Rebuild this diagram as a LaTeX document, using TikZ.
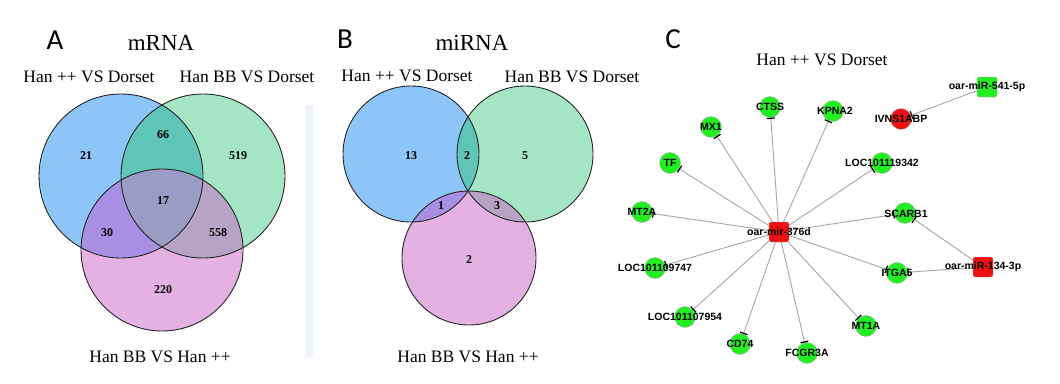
\documentclass[tikz,border=0pt]{standalone}
\usepackage{fontspec}
\setmainfont{Liberation Serif}
\newfontfamily\panelfont{Carlito}
\newfontfamily\netfont{Liberation Sans}
\usetikzlibrary{arrows.meta}
\definecolor{vblue}{HTML}{8DC5F9}
\definecolor{vgreen}{HTML}{A4E6C3}
\definecolor{vpink}{HTML}{E5B1E3}
\definecolor{vbg}{HTML}{5EC5B8}
\definecolor{vbp}{HTML}{A78FE3}
\definecolor{vgp}{HTML}{B7A3C6}
\definecolor{vall}{HTML}{9A9CC5}
\definecolor{vbar}{HTML}{EEF2FB}
\definecolor{ngreen}{HTML}{22EE22}
\definecolor{nred}{HTML}{EE1111}
\begin{document}
\begin{tikzpicture}[x=1pt,y=-1pt,
  title/.style={font=\fontsize{17.5}{20}\selectfont,inner sep=0pt},
  bigtitle/.style={font=\fontsize{23}{26}\selectfont,inner sep=0pt},
  panel/.style={font=\panelfont\fontsize{29}{32}\selectfont,inner sep=0pt},
  num/.style={font=\bfseries\fontsize{12}{14}\selectfont,inner sep=0pt},
  ring/.style={draw=black!85,line width=0.9pt},
  gene/.style={circle,draw=gray!60,fill=ngreen,minimum size=21pt,inner sep=0pt},
  redgene/.style={gene,fill=nred},
  mirbox/.style={rectangle,rounded corners=2pt,draw=gray!60,fill=nred,minimum size=20pt,inner sep=0pt},
  greenbox/.style={mirbox,fill=ngreen},
  lbl/.style={font=\netfont\bfseries\fontsize{10.5}{12}\selectfont,inner sep=0pt},
  edge/.style={draw=gray!70,line width=0.9pt,-{Bar[width=8pt,line width=1.2pt,color=black]}}
]
\useasboundingbox[fill=white] (0,0) rectangle (1060,383);

% ---------------- Panel A ----------------
\coordinate (a1) at (121,176);
\coordinate (a2) at (203,176);
\coordinate (a3) at (162,250);
\fill[vbar] (306,105) rectangle (313,357);
\fill[vblue] (a1) circle (82);
\fill[vgreen] (a2) circle (82);
\fill[vpink] (a3) circle (81);
\begin{scope}
  \clip (a1) circle (82);
  \fill[vbg] (a2) circle (82);
  \fill[vbp] (a3) circle (81);
  \clip (a2) circle (82);
  \fill[vall] (a3) circle (81);
\end{scope}
\begin{scope}
  \clip (a2) circle (82);
  \clip (a3) circle (81);
  \fill[vgp] (a3) circle (81);
  \clip (a1) circle (82);
  \fill[vall] (a3) circle (81);
\end{scope}
\draw[ring] (a1) circle (82);
\draw[ring] (a2) circle (82);
\draw[ring] (a3) circle (81);
\node[panel] (pA) at (55,40) {A};
\node[bigtitle] (tA) at (161,43) {mRNA};
\node[title] (tA1) at (89,77) {Han ++ VS Dorset};
\node[title] (tA2) at (247,77) {Han BB VS Dorset};
\node[title] (tA3) at (160,357) {Han BB VS Han ++};
\node[num] (nA1) at (86,156) {21};
\node[num] (nA2) at (163,135) {66};
\node[num] (nA3) at (238,156) {519};
\node[num] (nA4) at (163,201) {17};
\node[num] (nA5) at (107,233) {30};
\node[num] (nA6) at (218,233) {558};
\node[num] (nA7) at (163,290) {220};

% ---------------- Panel B ----------------
\coordinate (b1) at (411,154);
\coordinate (b2) at (525,154);
\coordinate (b3) at (469,258);
\fill[vblue] (b1) circle (68);
\fill[vgreen] (b2) circle (68);
\fill[vpink] (b3) circle (67);
\begin{scope}
  \clip (b1) circle (68);
  \fill[vbg] (b2) circle (68);
  \fill[vbp] (b3) circle (67);
\end{scope}
\begin{scope}
  \clip (b2) circle (68);
  \fill[vgp] (b3) circle (67);
\end{scope}
\draw[ring] (b1) circle (68);
\draw[ring] (b2) circle (68);
\draw[ring] (b3) circle (67);
\node[panel] (pB) at (345,39) {B};
\node[bigtitle] (tB) at (472,43) {miRNA};
\node[title] (tB1) at (407,76) {Han ++ VS Dorset};
\node[title] (tB2) at (572,77) {Han BB VS Dorset};
\node[title] (tB3) at (468,357) {Han BB VS Han ++};
\node[num] (nB1) at (411,156) {13};
\node[num] (nB2) at (467,156) {2};
\node[num] (nB3) at (525,156) {5};
\node[num] (nB4) at (441,206) {1};
\node[num] (nB5) at (497,206) {3};
\node[num] (nB6) at (469,260) {2};

% ---------------- Panel C ----------------
\node[panel] (pC) at (673,39) {C};
\node[title] (tC) at (822,60) {Han ++ VS Dorset};

\node[mirbox] (hub) at (779,232) {};
\node[gene] (ctss) at (770,107) {};
\node[gene] (kpna) at (833,111) {};
\node[gene] (mx1) at (711,127) {};
\node[gene] (tf) at (670,163) {};
\node[gene] (l342) at (882,163) {};
\node[gene] (mt2a) at (642,212) {};
\node[gene] (l747) at (655,268) {};
\node[gene] (l954) at (685,317) {};
\node[gene] (cd74) at (740,344) {};
\node[gene] (fcgr) at (807,353) {};
\node[gene] (mt1a) at (866,326) {};
\node[gene] (itga) at (897,273) {};
\node[gene] (scarb) at (905,213) {};
\node[mirbox] (m134) at (983,267) {};
\node[redgene] (ivns) at (901,119) {};
\node[greenbox] (m541) at (987,87) {};

\foreach \t in {ctss,kpna,mx1,tf,l342,mt2a,l747,l954,cd74,fcgr,mt1a,itga,scarb}
  \draw[edge] (hub) -- (\t);
\draw[edge] (m134) -- (scarb);
\draw[edge] (m134) -- (itga);
\draw[edge] (m541) -- (ivns);

\node[lbl] (Lhub) at (hub) {oar-mir-376d};
\node[lbl] (Lctss) at (ctss) {CTSS};
\node[lbl] (Lkpna) at (835,111) {KPNA2};
\node[lbl] (Lmx1) at (mx1) {MX1};
\node[lbl] (Ltf) at (tf) {TF};
\node[lbl] (Ll342) at (l342) {LOC101119342};
\node[lbl] (Lmt2a) at (mt2a) {MT2A};
\node[lbl] (Ll747) at (l747) {LOC101109747};
\node[lbl] (Ll954) at (l954) {LOC101107954};
\node[lbl] (Lcd74) at (cd74) {CD74};
\node[lbl] (Lfcgr) at (fcgr) {FCGR3A};
\node[lbl] (Lmt1a) at (mt1a) {MT1A};
\node[lbl] (Litga) at (itga) {ITGA5};
\node[lbl] (Lscarb) at (906,214) {SCARB1};
\node[lbl] (Lm134) at (m134) {oar-miR-134-3p};
\node[lbl] (Livns) at (ivns) {IVNS1ABP};
\node[lbl] (Lm541) at (m541) {oar-miR-541-5p};
\end{tikzpicture}
\end{document}
